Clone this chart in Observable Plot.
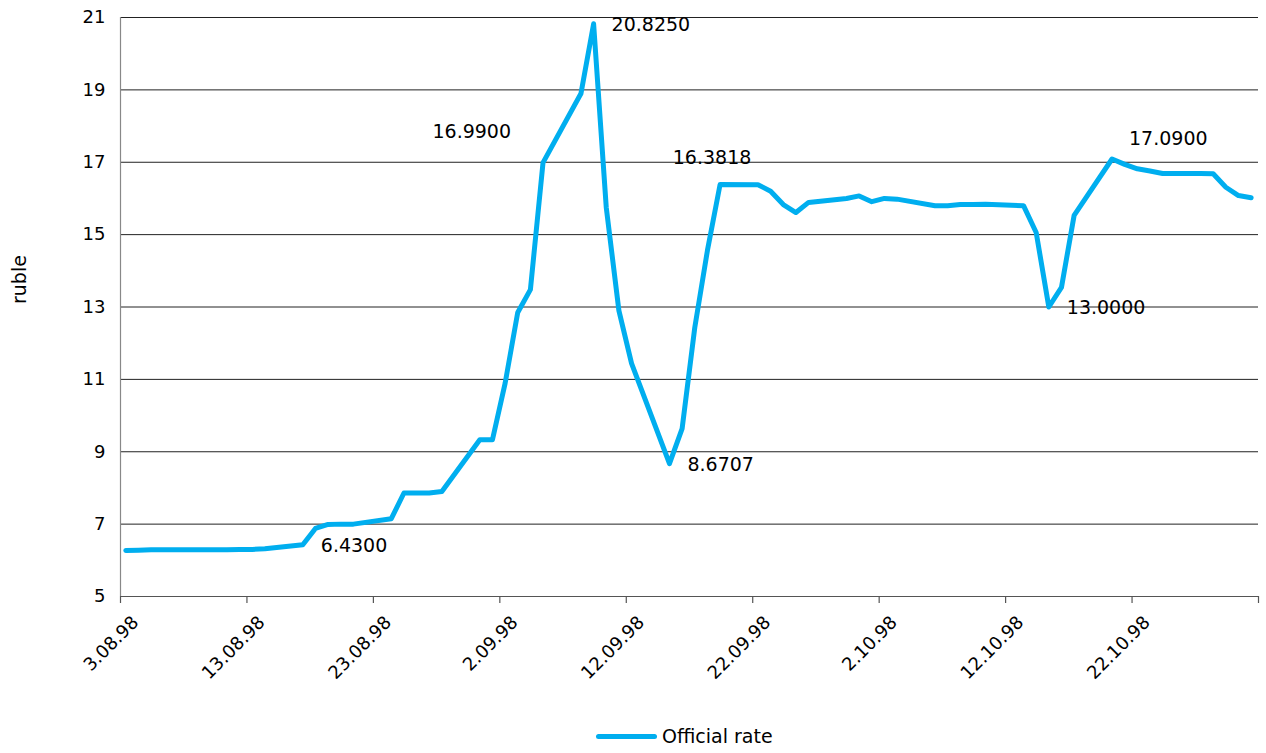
<!DOCTYPE html>
<html><head><meta charset="utf-8">
<script src="https://cdn.jsdelivr.net/npm/d3@7"></script>
<script src="https://cdn.jsdelivr.net/npm/@observablehq/plot@0.6"></script>
<style>
body{margin:0;background:#fff;font-family:"DejaVu Sans",sans-serif;}
#wrap{position:relative;width:1266px;height:753px;}
#legend{position:absolute;left:596px;top:725px;display:flex;align-items:center;font-size:19px;color:#000;}
#legend .sw{display:inline-block;width:61px;height:5px;background:#00aeef;border-radius:3px;margin-right:5px;}
</style></head><body>
<div id="wrap"><div id="chart"></div><div id="legend"><span class="sw"></span><span>Official rate</span></div></div>
<script>
const dates = ["1998-08-03","1998-08-04","1998-08-05","1998-08-06","1998-08-07","1998-08-10","1998-08-11","1998-08-12","1998-08-13","1998-08-14",
"1998-08-17","1998-08-18","1998-08-19","1998-08-20","1998-08-21","1998-08-24","1998-08-25","1998-08-26","1998-08-27","1998-08-28",
"1998-08-31","1998-09-01","1998-09-02","1998-09-03","1998-09-04","1998-09-05","1998-09-08","1998-09-09","1998-09-10","1998-09-11",
"1998-09-12","1998-09-15","1998-09-16","1998-09-17","1998-09-18","1998-09-19","1998-09-22","1998-09-23","1998-09-24","1998-09-25",
"1998-09-26","1998-09-29","1998-09-30","1998-10-01","1998-10-02","1998-10-03","1998-10-06","1998-10-07","1998-10-08","1998-10-09",
"1998-10-10","1998-10-13","1998-10-14","1998-10-15","1998-10-16","1998-10-17","1998-10-20","1998-10-21","1998-10-22","1998-10-23",
"1998-10-24","1998-10-27","1998-10-28","1998-10-29","1998-10-30","1998-10-31"];
const rates = [6.27,6.28,6.29,6.29,6.29,6.29,6.29,6.30,6.30,6.32,
6.43,6.88,6.99,7.00,7.00,7.15,7.86,7.86,7.86,7.90,
9.33,9.33,10.89,12.85,13.48,16.99,18.90,20.825,15.75,12.90,
11.44,8.6707,9.64,12.43,14.56,16.3818,16.38,16.20,15.83,15.61,
15.89,16.00,16.07,15.91,16.00,15.98,15.80,15.80,15.83,15.83,
15.84,15.80,15.06,13.00,13.54,15.53,17.09,16.94,16.82,16.76,
16.69,16.69,16.68,16.31,16.08,16.02];
const yTicks = [5,7,9,11,13,15,17,19,21];
const xTickDates = ["1998-08-03","1998-08-13","1998-08-23","1998-09-02","1998-09-12","1998-09-22","1998-10-02","1998-10-12","1998-10-22","1998-11-01"];
const xTickLabels = ["3.08.98","13.08.98","23.08.98","2.09.98","12.09.98","22.09.98","2.10.98","12.10.98","22.10.98"];
const seriesName = "Official rate";
const yTitle = "ruble";

const DAY_OFFSET = 10 * 3600 * 1000;
const data = dates.map((d, i) => ({date: new Date(Date.parse(d) + DAY_OFFSET), rate: rates[i], key: d}));
const ticks = xTickDates.map(d => new Date(Date.parse(d)));
const tickLab = xTickLabels.map((t, i) => ({date: ticks[i], label: t}));
const fmt = d3.format(".4f");
const lab = (keys, opts) => Plot.text(data.filter(d => keys.includes(d.key)), {x: "date", y: "rate", text: d => fmt(d.rate), fontSize: 19, fill: "#000", ...opts});

const chart = Plot.plot({
  width: 1266, height: 712,
  marginLeft: 120, marginRight: 8, marginTop: 17, marginBottom: 116,
  style: {fontFamily: "DejaVu Sans, sans-serif", fontSize: "18px", color: "#000", background: "#fff"},
  x: {type: "utc", domain: [ticks[0], ticks[ticks.length - 1]], axis: null},
  y: {domain: [5, 21], axis: null},
  marks: [
    Plot.ruleY(yTicks.filter(v => v !== 5), {stroke: "#222", strokeWidth: 1}),
    Plot.ruleX([ticks[0]], {stroke: "#888", strokeWidth: 1.2}),
    Plot.ruleY([5], {stroke: "#555", strokeWidth: 1.2}),
    Plot.ruleX(ticks, {x: d => d, y1: 5, y2: 5, insetBottom: -7, stroke: "#555", strokeWidth: 1.2}),
    Plot.text(yTicks, {y: d => d, frameAnchor: "left", dx: -15, textAnchor: "end", text: d => String(d), fontSize: 18, fill: "#000"}),
    Plot.text(tickLab, {x: "date", frameAnchor: "bottom", dx: 19, dy: 27, rotate: -45, textAnchor: "end", text: "label", fontSize: 18, fill: "#000"}),
    Plot.text([yTitle], {frameAnchor: "left", dx: -101, dy: -3, rotate: -90, text: d => d, fontSize: 19, fill: "#000"}),
    Plot.line(data, {x: "date", y: "rate", stroke: "#00aeef", strokeWidth: 5, strokeLinejoin: "round", strokeLinecap: "round"}),
    lab(["1998-08-17","1998-09-09","1998-09-15","1998-10-15"], {textAnchor: "start", dx: 18, dy: 1}),
    lab(["1998-09-05"], {textAnchor: "end", dx: -32, dy: -31}),
    lab(["1998-09-19"], {textAnchor: "middle", dx: -8, dy: -27}),
    lab(["1998-10-20"], {textAnchor: "start", dx: 17, dy: -20})
  ]
});
document.getElementById("chart").appendChild(chart);
</script>
</body></html>
